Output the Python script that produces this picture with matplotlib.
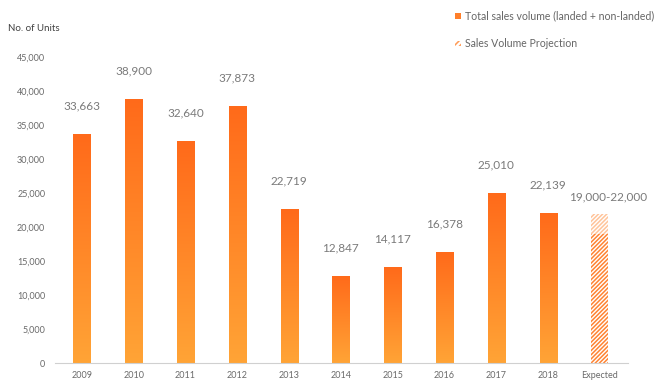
import matplotlib
matplotlib.use('Agg')
import matplotlib.pyplot as plt
import numpy as np
from matplotlib.colors import LinearSegmentedColormap
from matplotlib.patches import Rectangle

plt.rcParams['font.family'] = ['Lato', 'DejaVu Sans']

years = ['2009', '2010', '2011', '2012', '2013', '2014', '2015', '2016', '2017', '2018']
sales = [33663, 38900, 32640, 37873, 22719, 12847, 14117, 16378, 25010, 22139]
proj_label = 'Expected'
proj_low, proj_high = 19000, 22000
proj_text = '19,000-22,000'

top_col = '#ff6a1a'
bot_col = '#ffa436'
cmap = LinearSegmentedColormap.from_list('bar', [bot_col, top_col])

fig = plt.figure(figsize=(6.6, 3.81), dpi=100)
ax = fig.add_axes([0.0833, 0.047, 0.868, 0.803])

x = np.arange(len(years) + 1)
width = 0.33
grad = np.linspace(0, 1, 256).reshape(-1, 1)

for xi, v in zip(x, sales):
    bar = Rectangle((xi - width / 2, 0), width, v, facecolor='none',
                    edgecolor='#ffd9b8', linewidth=0.6)
    ax.add_patch(bar)
    im = ax.imshow(grad, cmap=cmap, origin='lower', aspect='auto',
                   extent=(xi - width / 2, xi + width / 2, 0, v), zorder=1)
    im.set_clip_path(bar)
    ax.text(xi, v + 3300, f'{v:,}', ha='center', va='bottom',
            fontsize=8.5, color='#7a7a7a')

# projection bar (hatched)
plt.rcParams['hatch.linewidth'] = 1.1
xp = x[-1]
ax.bar(xp, proj_low, width, color='white', edgecolor='#ff8433',
       hatch='////////', linewidth=0, zorder=2)
ax.bar(xp, proj_high - proj_low, width, bottom=proj_low, color='white',
       edgecolor='#ffc49a', hatch='////////', linewidth=0, zorder=2)
ax.text(xp + 0.15, proj_high + 1700, proj_text, ha='center', va='bottom',
        fontsize=8.5, color='#7a7a7a')

ax.set_xlim(-0.52, x[-1] + 0.54)
ax.set_ylim(0, 45000)
ax.set_yticks(np.arange(0, 45001, 5000))
ax.set_yticklabels([f'{t:,}' for t in range(0, 45001, 5000)])
ax.set_xticks(x)
ax.set_xticklabels(years + [proj_label])
ax.tick_params(axis='both', length=0, labelsize=6.5, colors='#6a6a6a')
ax.tick_params(axis='y', pad=7)
ax.tick_params(axis='x', pad=6)
for s in ['top', 'right', 'left']:
    ax.spines[s].set_visible(False)
ax.spines['bottom'].set_color('#d0d0d0')

fig.text(0.012, 0.924, 'No. of Units', fontsize=7, color='#404040', va='center')

# legend
fig.patches.append(Rectangle((0.690, 0.951), 0.0085, 0.0147, transform=fig.transFigure,
                             facecolor='#ff7f2a', edgecolor='none'))
fig.text(0.705, 0.959, 'Total sales volume (landed + non-landed)', fontsize=7.6,
         color='#666666', va='center')
fig.patches.append(Rectangle((0.690, 0.879), 0.0085, 0.0147, transform=fig.transFigure,
                             facecolor='white', edgecolor='#ff9a55', hatch='//////',
                             linewidth=0))
fig.text(0.705, 0.887, 'Sales Volume Projection', fontsize=7.6,
         color='#666666', va='center')

fig.savefig('out.png', dpi=100)
